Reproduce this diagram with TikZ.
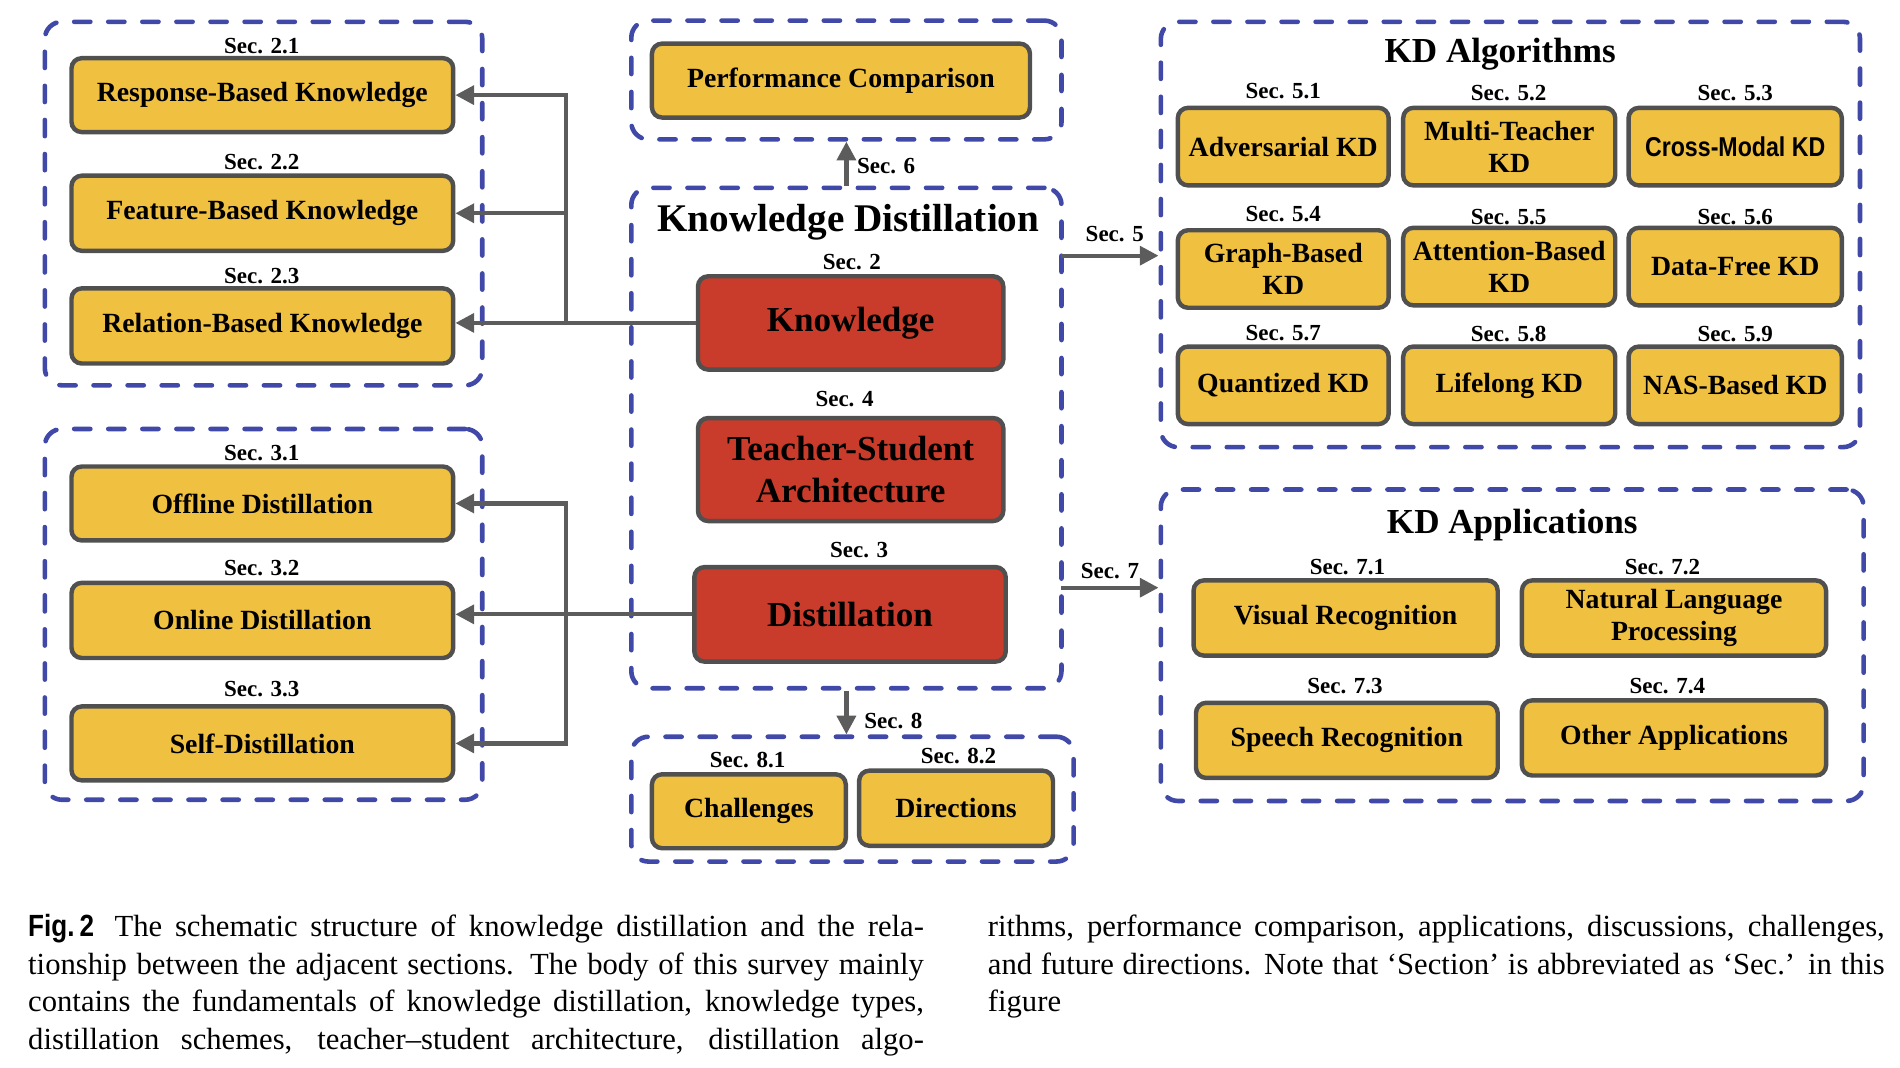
\documentclass[tikz,border=0pt]{standalone}
\usepackage{fontspec}
\setmainfont{Liberation Serif}
\newfontfamily\narrowsans{Liberation Sans}[FakeStretch=0.85]
\usetikzlibrary{fit,arrows.meta}
\definecolor{kdyellow}{RGB}{240,192,64}
\definecolor{kdred}{RGB}{201,59,42}
\definecolor{bordergray}{RGB}{80,80,80}
\definecolor{conngray}{RGB}{92,92,92}
\definecolor{grpblue}{RGB}{64,72,168}
\newcommand{\capL}[1]{\makebox[18.475cm][s]{#1}}
\newcommand{\capR}[1]{\makebox[18.5cm][s]{#1}}
% box by corners (in picture pixels): style, x1, y1, x2, y2, name
\newcommand{\bx}[6]{\node[#1, minimum width={(#4-#2)*0.025cm}, minimum height={(#5-#3)*0.025cm}] (#6) at ({(#2+#4)/2},{(#3+#5)/2})}
\begin{document}
\begin{tikzpicture}[x=0.025cm,y=-0.025cm,
  grp/.style={draw=grpblue, line width=2.7pt, dash pattern=on 9.5pt off 10.5pt, line cap=round, rounded corners=10pt, inner sep=0pt},
  ybox/.style={draw=bordergray, fill=kdyellow, line width=2.6pt, rounded corners=6pt, inner sep=0pt, align=center, font=\fontsize{16.3}{19}\selectfont\bfseries},
  rbox/.style={draw=bordergray, fill=kdred, line width=2.6pt, rounded corners=6pt, inner sep=0pt, align=center, font=\fontsize{20.6}{24.8}\selectfont\bfseries},
  seclab/.style={font=\fontsize{13.5}{15}\selectfont\bfseries, inner sep=0pt},
  gtitle/.style={font=\fontsize{20.6}{24}\selectfont\bfseries, inner sep=0pt},
  conn/.style={draw=conngray, line width=2.5pt},
  arr/.style={conn, -{Triangle[length=11pt,width=11pt]}},
  capline/.style={anchor=base west, inner sep=0pt, font=\fontsize{18}{22}\selectfont},
]
\useasboundingbox (0,0) rectangle (1568,881);

% ---------- Knowledge types group ----------
\node[grp, fit={(37,18)(398,318)}] (gK) {};
\node[seclab] (s21) at (216,38) {Sec. 2.1};
\bx{ybox}{59}{48}{374}{109}{resp} {Response-Based Knowledge};
\node[seclab] (s22) at (216,134) {Sec. 2.2};
\bx{ybox}{59}{145}{374}{207}{feat} {Feature-Based Knowledge};
\node[seclab] (s23) at (216,228) {Sec. 2.3};
\bx{ybox}{59}{238}{374}{300}{rel} {Relation-Based Knowledge};

% ---------- Distillation schemes group ----------
\node[grp, fit={(37,354)(398,660)}] (gS) {};
\node[seclab] (s31) at (216,374) {Sec. 3.1};
\bx{ybox}{59}{385}{374}{446}{off} {Offline Distillation};
\node[seclab] (s32) at (216,469) {Sec. 3.2};
\bx{ybox}{59}{481}{374}{543}{onl} {Online Distillation};
\node[seclab] (s33) at (216,569) {Sec. 3.3};
\bx{ybox}{59}{583}{374}{644}{self} {Self-Distillation};

% ---------- Performance comparison ----------
\node[grp, fit={(521,17)(876,115)}] (gP) {};
\bx{ybox}{538}{36}{850}{97}{perf} {Performance Comparison};

% ---------- Knowledge distillation core ----------
\node[grp, fit={(521,155)(876,568)}] (gKD) {};
\node[font=\fontsize{23}{26}\selectfont\bfseries, inner sep=0pt] (kdt) at (700,183) {Knowledge Distillation};
\node[seclab] (s2) at (703,216) {Sec. 2};
\bx{rbox}{576}{228}{828}{305}{know} {Knowledge};
\node[seclab] (s4) at (697,329) {Sec. 4};
\bx{rbox}{576}{345}{828}{430}{ts} {Teacher-Student\\Architecture};
\node[seclab] (s3) at (709,454) {Sec. 3};
\bx{rbox}{573}{468}{830}{546}{dist} {Distillation};

% ---------- Challenges / directions ----------
\node[grp, fit={(521,608)(886,711)}] (gC) {};
\node[seclab] (s81) at (617,627) {Sec. 8.1};
\bx{ybox}{538}{639}{698}{700}{chal} {Challenges};
\node[seclab] (s82) at (791,624) {Sec. 8.2};
\bx{ybox}{709}{636}{869}{698}{dirs} {Directions};

% ---------- KD algorithms ----------
\node[grp, fit={(958,18)(1535,369)}] (gA) {};
\node[gtitle] (tA) at (1238,45) {KD Algorithms};
\node[seclab] (s51) at (1059,75) {Sec. 5.1};
\node[seclab] (s52) at (1245,77) {Sec. 5.2};
\node[seclab] (s53) at (1432,77) {Sec. 5.3};
\bx{ybox}{972}{89}{1146}{153}{adv} {Adversarial KD};
\bx{ybox}{1158}{89}{1333}{153}{mt} {Multi-Teacher\\KD};
\bx{ybox, font=\fontsize{16}{19}\narrowsans\bfseries}{1344}{89}{1520}{153}{cm} {Cross-Modal KD};
\node[seclab] (s54) at (1059,177) {Sec. 5.4};
\node[seclab] (s55) at (1245,179) {Sec. 5.5};
\node[seclab] (s56) at (1432,179) {Sec. 5.6};
\bx{ybox}{972}{190}{1146}{254}{gb} {Graph-Based\\KD};
\bx{ybox}{1158}{188}{1333}{252}{ab} {Attention-Based\\KD};
\bx{ybox}{1344}{188}{1520}{252}{df} {Data-Free KD};
\node[seclab] (s57) at (1059,275) {Sec. 5.7};
\node[seclab] (s58) at (1245,276) {Sec. 5.8};
\node[seclab] (s59) at (1432,276) {Sec. 5.9};
\bx{ybox}{972}{286}{1146}{350}{qk} {Quantized KD};
\bx{ybox}{1158}{286}{1333}{350}{ll} {Lifelong KD};
\bx{ybox}{1344}{286}{1520}{350}{nas} {NAS-Based KD};

% ---------- KD applications ----------
\node[grp, fit={(958,404)(1538,661)}] (gApp) {};
\node[gtitle] (tApp) at (1248,433) {KD Applications};
\node[seclab] (s71) at (1112,468) {Sec. 7.1};
\node[seclab] (s72) at (1372,468) {Sec. 7.2};
\bx{ybox}{985}{479}{1236}{541}{vr} {Visual Recognition};
\bx{ybox}{1256}{479}{1507}{541}{nlp} {Natural Language\\Processing};
\node[seclab] (s73) at (1110,566) {Sec. 7.3};
\node[seclab] (s74) at (1376,566) {Sec. 7.4};
\bx{ybox}{987}{580}{1236}{642}{sr} {Speech Recognition};
\bx{ybox}{1256}{578}{1507}{640}{oa} {Other Applications};

% ---------- connectors ----------
\coordinate (kbus) at (467,0);
\draw[conn, line cap=rect] (kbus |- resp.east) -- (kbus |- know.west);
\draw[arr] (know.west) -- (know.west -| rel.east);
\draw[arr] (kbus |- resp.east) -- (resp.east);
\draw[arr] (kbus |- feat.east) -- (feat.east);

\coordinate (dbus) at (467,0);
\draw[conn, line cap=rect] (dbus |- off.east) -- (dbus |- self.east);
\draw[arr] (dist.west) -- (dist.west -| onl.east);
\draw[arr] (dbus |- off.east) -- (off.east);
\draw[arr] (dbus |- self.east) -- (self.east);

\draw[arr] (gKD.north) -- (gP.south);
\node[seclab, anchor=west] (l6) at (707,137) {Sec. 6};

\coordinate (a5) at (876,211);
\draw[arr] (a5) -- (a5 -| gA.west);
\node[seclab] (l5) at (920,193) {Sec. 5};

\coordinate (a7) at (876,485);
\draw[arr] (a7) -- (a7 -| gApp.west);
\node[seclab] (l7) at (916,471) {Sec. 7};

\draw[arr] (gKD.south) -- (gKD.south |- gC.north);
\node[seclab, anchor=west] (l8) at (713,595) {Sec. 8};

% ---------- caption ----------
\node[capline] (c1) at (23,773) {\capL{{\narrowsans\bfseries Fig.\,2}\hspace{0.42cm}The schematic structure of knowledge distillation and the rela-}};
\node[capline] (c2) at (23,804) {\capL{tionship between the adjacent sections. The body of this survey mainly}};
\node[capline] (c3) at (23,835) {\capL{contains the fundamentals of knowledge distillation, knowledge types,}};
\node[capline] (c4) at (23,866) {\capL{distillation schemes, teacher--student architecture, distillation algo-}};
\node[capline] (c5) at (815,773) {\capR{rithms, performance comparison, applications, discussions, challenges,}};
\node[capline] (c6) at (815,804) {\capR{and future directions. Note that `Section' is abbreviated as `Sec.' in this}};
\node[capline] (c7) at (815,835) {figure};
\end{tikzpicture}
\end{document}
